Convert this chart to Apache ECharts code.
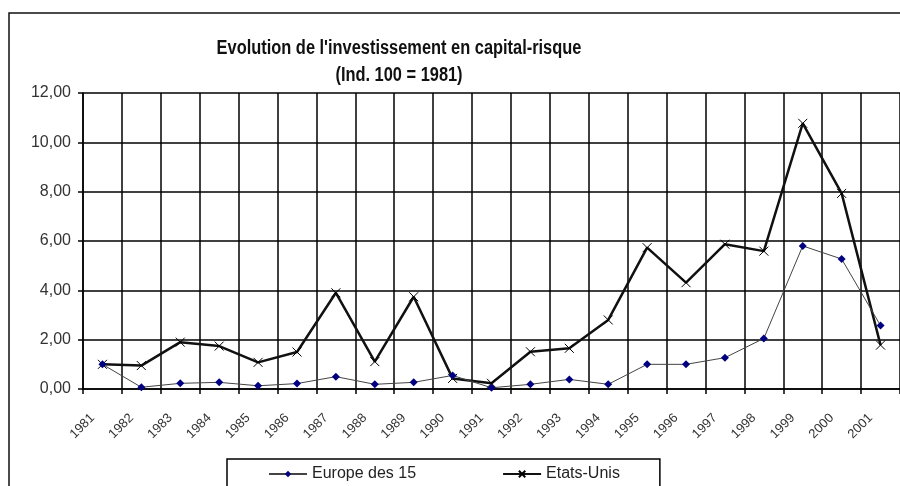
<!DOCTYPE html>
<html>
<head>
<meta charset="utf-8">
<script src="https://cdn.jsdelivr.net/npm/echarts@6/dist/echarts.min.js"></script>
<style>
    html, body { margin: 0; padding: 0; background: #fff; }
    #chart { width: 900px; height: 486px; }
</style>
</head>
<body>
<div id="chart"></div>
<script>
var years = ["1981", "1982", "1983", "1984", "1985", "1986", "1987", "1988", "1989", "1990", "1991",
    "1992", "1993", "1994", "1995", "1996", "1997", "1998", "1999", "2000", "2001"];

var europe = [1.00, 0.07, 0.23, 0.27, 0.13, 0.22, 0.50, 0.19, 0.27, 0.55, 0.05,
    0.19, 0.39, 0.19, 1.00, 1.00, 1.27, 2.05, 5.80, 5.27, 2.57];

var etatsUnis = [1.00, 0.95, 1.90, 1.74, 1.08, 1.50, 3.90, 1.11, 3.74, 0.43, 0.23,
    1.51, 1.65, 2.80, 5.73, 4.31, 5.87, 5.59, 10.77, 7.93, 1.78];

var titleLines = ["Evolution de l'investissement en capital-risque", "(Ind. 100 = 1981)"];

var chart = echarts.init(document.getElementById("chart"));

// petite croix pour les points Etats-Unis
var cross = "path://M0,0L10,10M10,0L0,10";

// titre un peu étroit, comme dans l'original
var titleStyle = { fontSize: 20, fontWeight: "bold", fill: "#111", align: "center", verticalAlign: "middle",
    fontFamily: "Liberation Sans, Arial, sans-serif" };

var option = {
    animation: false,
    textStyle: { fontFamily: "Liberation Sans, Arial, sans-serif" },
    legend: {
        left: 227,
        top: 459,
        padding: [7, 40, 10, 41],
        itemGap: 86,
        itemWidth: 38,
        itemHeight: 8,
        borderColor: "#000",
        borderWidth: 1.5,
        textStyle: { fontSize: 16, color: "#222" },
        data: ["Europe des 15", "Etats-Unis"]
    },
    graphic: [{
        type: "rect",
        shape: { x: 9, y: 13, width: 900, height: 480 },
        style: { fill: "none", stroke: "#111", lineWidth: 1.5 },
        silent: true
    }, {
        type: "text",
        x: 399, y: 48, scaleX: 0.82,
        style: echarts.util.extend({ text: titleLines[0] }, titleStyle)
    }, {
        type: "text",
        x: 399, y: 75, scaleX: 0.82,
        style: echarts.util.extend({ text: titleLines[1] }, titleStyle)
    }],
    grid: { left: 83, top: 93, right: -2, bottom: 97 },
    xAxis: {
        type: "category",
        data: years,
        boundaryGap: true,
        axisLine: { lineStyle: { color: "#000", width: 1.5 } },
        axisTick: { show: true, length: 5, lineStyle: { color: "#000", width: 1.5 } },
        splitLine: { show: true, lineStyle: { color: "#000", width: 1.5 } },
        axisLabel: {
            interval: 0,
            rotate: 45,
            margin: 17,
            padding: [0, 14, 0, 0],
            fontSize: 13,
            color: "#333"
        }
    },
    yAxis: {
        type: "value",
        min: 0,
        max: 12,
        interval: 2,
        axisLine: { show: true, lineStyle: { color: "#000", width: 1.5 } },
        axisTick: { show: true, length: 5, lineStyle: { color: "#000", width: 1.5 } },
        splitLine: { show: true, lineStyle: { color: "#000", width: 1.5 } },
        axisLabel: {
            margin: 12,
            fontSize: 16,
            color: "#333",
            formatter: function (v) { return v.toFixed(2).replace(".", ","); }
        }
    },
    series: [
        {
            name: "Europe des 15",
            type: "line",
            data: europe,
            symbol: "diamond",
            symbolSize: 8,
            z: 3,
            itemStyle: { color: "#000080" },
            lineStyle: { color: "#444", width: 1 }
        },
        {
            name: "Etats-Unis",
            type: "line",
            data: etatsUnis,
            symbol: cross,
            symbolSize: 9,
            z: 2,
            itemStyle: { color: "none", borderColor: "#000", borderWidth: 1 },
            lineStyle: { color: "#111", width: 2.5 }
        }
    ]
};

chart.setOption(option);
</script>
</body>
</html>
